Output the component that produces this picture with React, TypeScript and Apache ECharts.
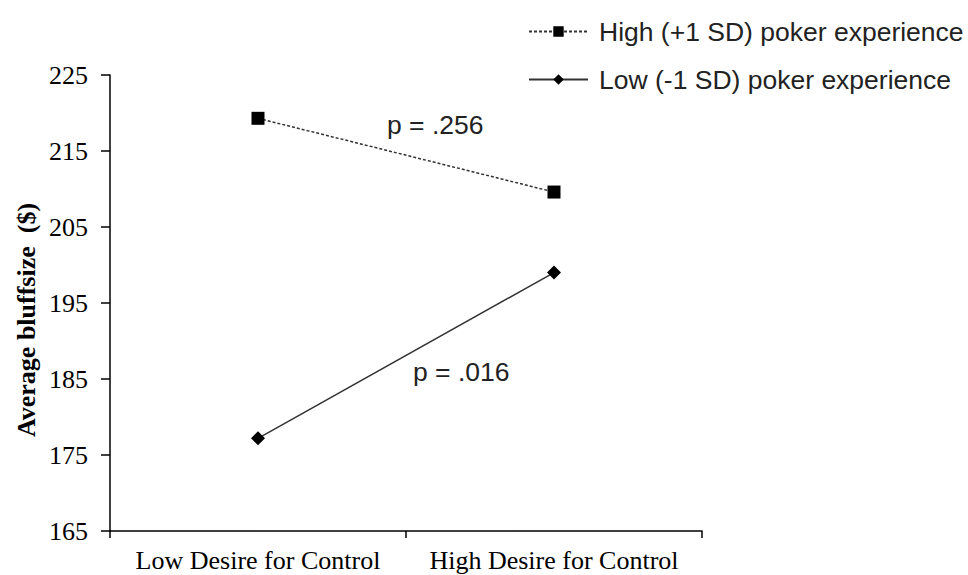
import React, { useEffect, useRef } from "react";
import * as echarts from "echarts";

const categories = ["Low Desire for Control", "High Desire for Control"];
const seriesNames = ["High (+1 SD) poker experience", "Low (-1 SD) poker experience"];
const highExperience = [219.3, 209.6];
const lowExperience = [177.2, 199.0];
const yTicks = { min: 165, max: 225, interval: 10 };
const annotations = [
  { text: "p = .256", x: 387, y: 125 },
  { text: "p = .016", x: 413, y: 372 },
];
const yTitle = "Average bluffsize  ($)";

export default function App() {
  const ref = useRef<HTMLDivElement>(null);
  useEffect(() => {
    if (!ref.current) return;
    const chart = echarts.init(ref.current, null, { renderer: "svg" });
    const serif = "'Liberation Serif', 'Times New Roman', serif";
    const sans = "'Liberation Sans', Arial, sans-serif";
    chart.setOption({
      animation: false,
      backgroundColor: "#ffffff",
      grid: { left: 110, top: 75, width: 592, height: 456, containLabel: false },
      legend: {
        orient: "vertical",
        left: 528,
        top: 18,
        padding: 0,
        itemWidth: 59,
        itemHeight: 13,
        itemGap: 21,
        data: seriesNames,
        textStyle: { fontFamily: sans, fontSize: 26.5, color: "#222", padding: [0, 0, 0, 6] },
      },
      xAxis: {
        type: "category",
        data: categories,
        boundaryGap: true,
        axisLine: { lineStyle: { color: "#000", width: 1.5 } },
        axisTick: { show: true, length: 7, alignWithLabel: false, lineStyle: { color: "#000", width: 1.5 } },
        axisLabel: { interval: 0, fontFamily: serif, fontSize: 26, color: "#000", margin: 16 },
        splitLine: { show: false },
      },
      yAxis: {
        type: "value",
        min: yTicks.min,
        max: yTicks.max,
        interval: yTicks.interval,
        axisLine: { show: true, lineStyle: { color: "#000", width: 1.5 } },
        axisTick: { show: true, length: 9, lineStyle: { color: "#000", width: 1.5 } },
        axisLabel: { fontFamily: serif, fontSize: 26, color: "#000", margin: 22 },
        splitLine: { show: false },
      },
      series: [
        {
          name: seriesNames[0],
          type: "line",
          data: highExperience,
          symbol: "rect",
          symbolSize: 13,
          itemStyle: { color: "#000" },
          lineStyle: { color: "#333", width: 1.5, type: [3, 2] },
        },
        {
          name: seriesNames[1],
          type: "line",
          data: lowExperience,
          symbol: "diamond",
          symbolSize: 14,
          itemStyle: { color: "#000" },
          lineStyle: { color: "#333", width: 1.5, type: "solid" },
        },
      ],
      graphic: [
        {
          type: "text",
          x: 26,
          y: 320,
          rotation: Math.PI / 2,
          style: {
            text: yTitle,
            fontFamily: serif,
            fontSize: 26,
            fontWeight: "bold",
            fill: "#000",
            align: "center",
            verticalAlign: "middle",
          },
        },
        ...annotations.map((a) => ({
          type: "text",
          x: a.x,
          y: a.y,
          style: {
            text: a.text,
            fontFamily: sans,
            fontSize: 26.5,
            fill: "#222",
            align: "left",
            verticalAlign: "middle",
          },
        })),
      ],
    });
    return () => chart.dispose();
  }, []);
  return (
    <div
      ref={ref}
      style={{ position: "absolute", left: 0, top: 0, width: 968, height: 575, background: "#fff" }}
    />
  );
}
